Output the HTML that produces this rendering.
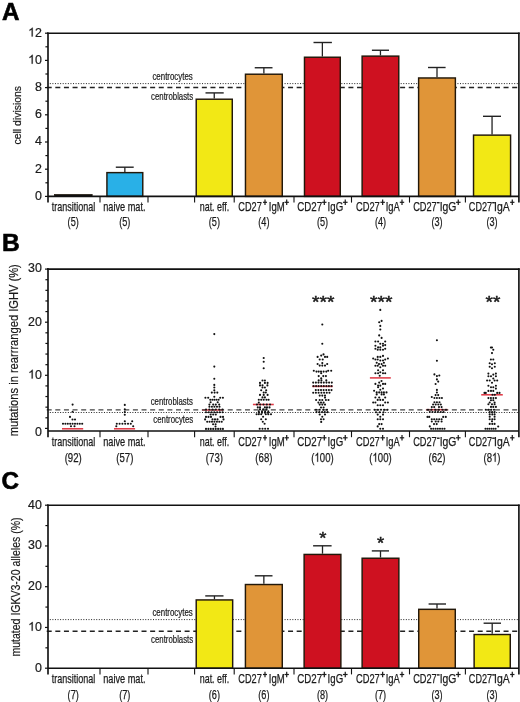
<!DOCTYPE html><html><head><meta charset="utf-8"><style>html,body{margin:0;padding:0;background:#fff}svg{display:block;will-change:transform}text{font-family:"Liberation Sans", sans-serif}</style></head><body>
<svg width="520" height="702" viewBox="0 0 520 702">
<rect width="520" height="702" fill="#fff"/>
<text x="1.9" y="20.0" font-size="24.2" font-weight="bold" fill="#000" text-anchor="start" stroke="#000" stroke-width="0.6">A</text>
<line x1="49.8" y1="83.6" x2="517.9" y2="83.6" stroke="#222" stroke-width="1.0" stroke-linecap="butt" stroke-dasharray="1 1.58"/>
<line x1="46.7" y1="87.5" x2="517.9" y2="87.5" stroke="#222" stroke-width="1.5" stroke-linecap="butt" stroke-dasharray="5 3.62"/>
<text x="152.39999999999998" y="79.5" font-size="10" font-weight="normal" fill="#1a1a1a" text-anchor="start" stroke="#1a1a1a" stroke-width="0.2" textLength="40.4" lengthAdjust="spacingAndGlyphs">centrocytes</text>
<text x="151.1" y="99.5" font-size="10" font-weight="normal" fill="#1a1a1a" text-anchor="start" stroke="#1a1a1a" stroke-width="0.2" textLength="42.1" lengthAdjust="spacingAndGlyphs">centroblasts</text>
<rect x="54.30" y="194.30" width="37.90" height="2.10" fill="#111" stroke="#22180a" stroke-width="0.6"/>
<line x1="124.85" y1="171.9" x2="124.85" y2="167.2" stroke="#222" stroke-width="1.3" stroke-linecap="butt"/>
<line x1="115.8" y1="167.2" x2="133.7" y2="167.2" stroke="#222" stroke-width="1.4" stroke-linecap="butt"/>
<rect x="106.92" y="172.62" width="35.85" height="23.77" fill="#29B0E7" stroke="#22180a" stroke-width="1.45"/>
<line x1="214.25" y1="98.5" x2="214.25" y2="92.9" stroke="#222" stroke-width="1.3" stroke-linecap="butt"/>
<line x1="205.5" y1="92.9" x2="223.7" y2="92.9" stroke="#222" stroke-width="1.4" stroke-linecap="butt"/>
<rect x="196.22" y="99.22" width="36.05" height="97.18" fill="#F2E815" stroke="#22180a" stroke-width="1.45"/>
<line x1="263.875" y1="73.5" x2="263.875" y2="67.75" stroke="#222" stroke-width="1.3" stroke-linecap="butt"/>
<line x1="254.75" y1="67.75" x2="272.5" y2="67.75" stroke="#222" stroke-width="1.4" stroke-linecap="butt"/>
<rect x="245.47" y="74.22" width="36.80" height="122.18" fill="#E09538" stroke="#22180a" stroke-width="1.45"/>
<line x1="322.375" y1="56.5" x2="322.375" y2="42.5" stroke="#222" stroke-width="1.3" stroke-linecap="butt"/>
<line x1="313.5" y1="42.5" x2="331.9" y2="42.5" stroke="#222" stroke-width="1.4" stroke-linecap="butt"/>
<rect x="304.48" y="57.23" width="35.80" height="139.18" fill="#CE1120" stroke="#22180a" stroke-width="1.45"/>
<line x1="380.45" y1="55.4" x2="380.45" y2="50.25" stroke="#222" stroke-width="1.3" stroke-linecap="butt"/>
<line x1="371.9" y1="50.25" x2="389" y2="50.25" stroke="#222" stroke-width="1.4" stroke-linecap="butt"/>
<rect x="362.12" y="56.12" width="36.65" height="140.28" fill="#CE1120" stroke="#22180a" stroke-width="1.45"/>
<line x1="437.0" y1="77.25" x2="437.0" y2="67.5" stroke="#222" stroke-width="1.3" stroke-linecap="butt"/>
<line x1="428" y1="67.5" x2="445.6" y2="67.5" stroke="#222" stroke-width="1.4" stroke-linecap="butt"/>
<rect x="418.62" y="77.97" width="36.75" height="118.43" fill="#E09538" stroke="#22180a" stroke-width="1.45"/>
<line x1="492.05" y1="134.4" x2="492.05" y2="116.3" stroke="#222" stroke-width="1.3" stroke-linecap="butt"/>
<line x1="483" y1="116.3" x2="501" y2="116.3" stroke="#222" stroke-width="1.4" stroke-linecap="butt"/>
<rect x="473.53" y="135.12" width="37.05" height="61.27" fill="#F2E815" stroke="#22180a" stroke-width="1.45"/>
<line x1="47.0" y1="33.20000000000002" x2="519.6999999999999" y2="33.20000000000002" stroke="#111" stroke-width="1.65" stroke-linecap="butt"/>
<line x1="48.0" y1="32.40000000000002" x2="48.0" y2="202.6" stroke="#111" stroke-width="1.65" stroke-linecap="butt"/>
<line x1="518.9" y1="32.40000000000002" x2="518.9" y2="202.6" stroke="#111" stroke-width="1.65" stroke-linecap="butt"/>
<line x1="48.0" y1="196.4" x2="518.9" y2="196.4" stroke="#111" stroke-width="1.65" stroke-linecap="butt"/>
<line x1="100" y1="196.4" x2="100" y2="202.6" stroke="#111" stroke-width="1.1" stroke-linecap="butt"/>
<line x1="148" y1="196.4" x2="148" y2="202.6" stroke="#111" stroke-width="1.1" stroke-linecap="butt"/>
<line x1="194.6" y1="196.4" x2="194.6" y2="202.6" stroke="#111" stroke-width="1.1" stroke-linecap="butt"/>
<line x1="234.2" y1="196.4" x2="234.2" y2="202.6" stroke="#111" stroke-width="1.1" stroke-linecap="butt"/>
<line x1="294" y1="196.4" x2="294" y2="202.6" stroke="#111" stroke-width="1.1" stroke-linecap="butt"/>
<line x1="351.5" y1="196.4" x2="351.5" y2="202.6" stroke="#111" stroke-width="1.1" stroke-linecap="butt"/>
<line x1="409.5" y1="196.4" x2="409.5" y2="202.6" stroke="#111" stroke-width="1.1" stroke-linecap="butt"/>
<line x1="465.4" y1="196.4" x2="465.4" y2="202.6" stroke="#111" stroke-width="1.1" stroke-linecap="butt"/>
<line x1="45.0" y1="196.4" x2="48.0" y2="196.4" stroke="#111" stroke-width="1.2" stroke-linecap="butt"/>
<text x="35.003710937499996" y="199.70000000000002" font-size="12.4" font-weight="normal" fill="#1a1a1a" text-anchor="start" stroke="#1a1a1a" stroke-width="0.2">0</text>
<line x1="45.4" y1="182.8" x2="48.0" y2="182.8" stroke="#111" stroke-width="1.2" stroke-linecap="butt"/>
<line x1="45.0" y1="169.20000000000002" x2="48.0" y2="169.20000000000002" stroke="#111" stroke-width="1.2" stroke-linecap="butt"/>
<text x="35.003710937499996" y="172.50000000000003" font-size="12.4" font-weight="normal" fill="#1a1a1a" text-anchor="start" stroke="#1a1a1a" stroke-width="0.2">2</text>
<line x1="45.4" y1="155.60000000000002" x2="48.0" y2="155.60000000000002" stroke="#111" stroke-width="1.2" stroke-linecap="butt"/>
<line x1="45.0" y1="142.0" x2="48.0" y2="142.0" stroke="#111" stroke-width="1.2" stroke-linecap="butt"/>
<text x="35.003710937499996" y="145.3" font-size="12.4" font-weight="normal" fill="#1a1a1a" text-anchor="start" stroke="#1a1a1a" stroke-width="0.2">4</text>
<line x1="45.4" y1="128.4" x2="48.0" y2="128.4" stroke="#111" stroke-width="1.2" stroke-linecap="butt"/>
<line x1="45.0" y1="114.80000000000001" x2="48.0" y2="114.80000000000001" stroke="#111" stroke-width="1.2" stroke-linecap="butt"/>
<text x="35.003710937499996" y="118.10000000000001" font-size="12.4" font-weight="normal" fill="#1a1a1a" text-anchor="start" stroke="#1a1a1a" stroke-width="0.2">6</text>
<line x1="45.4" y1="101.2" x2="48.0" y2="101.2" stroke="#111" stroke-width="1.2" stroke-linecap="butt"/>
<line x1="45.0" y1="87.60000000000001" x2="48.0" y2="87.60000000000001" stroke="#111" stroke-width="1.2" stroke-linecap="butt"/>
<text x="35.003710937499996" y="90.9" font-size="12.4" font-weight="normal" fill="#1a1a1a" text-anchor="start" stroke="#1a1a1a" stroke-width="0.2">8</text>
<line x1="45.4" y1="74.00000000000001" x2="48.0" y2="74.00000000000001" stroke="#111" stroke-width="1.2" stroke-linecap="butt"/>
<line x1="45.0" y1="60.400000000000006" x2="48.0" y2="60.400000000000006" stroke="#111" stroke-width="1.2" stroke-linecap="butt"/>
<text x="28.107421875" y="63.7" font-size="12.4" font-weight="normal" fill="#1a1a1a" text-anchor="start" stroke="#1a1a1a" stroke-width="0.2"> 0</text>
<path transform="translate(28.11,63.7) scale(0.00605,-0.00605)" d="M763 0H583V1147Q518 1085 412 1023T222 930V1104Q372 1175 484 1276T643 1466H763Z" fill="#1a1a1a" stroke="#1a1a1a" stroke-width="33.0"/>
<line x1="45.4" y1="46.80000000000001" x2="48.0" y2="46.80000000000001" stroke="#111" stroke-width="1.2" stroke-linecap="butt"/>
<line x1="45.0" y1="33.20000000000002" x2="48.0" y2="33.20000000000002" stroke="#111" stroke-width="1.2" stroke-linecap="butt"/>
<text x="28.107421875" y="36.500000000000014" font-size="12.4" font-weight="normal" fill="#1a1a1a" text-anchor="start" stroke="#1a1a1a" stroke-width="0.2"> 2</text>
<path transform="translate(28.11,36.500000000000014) scale(0.00605,-0.00605)" d="M763 0H583V1147Q518 1085 412 1023T222 930V1104Q372 1175 484 1276T643 1466H763Z" fill="#1a1a1a" stroke="#1a1a1a" stroke-width="33.0"/>
<text transform="translate(21.0,115.2) rotate(-90)" font-size="10.6" font-weight="normal" fill="#1a1a1a" text-anchor="middle" stroke="#1a1a1a" stroke-width="0.2" textLength="58.5" lengthAdjust="spacingAndGlyphs">cell divisions</text>
<text x="51.66" y="210.7" font-size="12.6" font-weight="normal" fill="#1a1a1a" text-anchor="start" stroke="#1a1a1a" stroke-width="0.25" textLength="43.54" lengthAdjust="spacingAndGlyphs">transitional</text>
<text x="103.19" y="210.7" font-size="12.6" font-weight="normal" fill="#1a1a1a" text-anchor="start" stroke="#1a1a1a" stroke-width="0.25" textLength="42.35" lengthAdjust="spacingAndGlyphs">naive mat.</text>
<text x="199.71" y="210.7" font-size="12.6" font-weight="normal" fill="#1a1a1a" text-anchor="start" stroke="#1a1a1a" stroke-width="0.25" textLength="29.6" lengthAdjust="spacingAndGlyphs">nat. eff.</text>
<text x="238.33" y="210.7" font-size="12.6" font-weight="normal" fill="#1a1a1a" text-anchor="start" stroke="#1a1a1a" stroke-width="0.25" textLength="23.43" lengthAdjust="spacingAndGlyphs">CD27</text>
<line x1="263.0" y1="202.29999999999998" x2="267.0" y2="202.29999999999998" stroke="#1a1a1a" stroke-width="1.2" stroke-linecap="butt"/>
<line x1="265.0" y1="199.54999999999998" x2="265.0" y2="205.04999999999998" stroke="#1a1a1a" stroke-width="1.2" stroke-linecap="butt"/>
<text x="268.82" y="210.7" font-size="12.6" font-weight="normal" fill="#1a1a1a" text-anchor="start" stroke="#1a1a1a" stroke-width="0.25" textLength="15.97" lengthAdjust="spacingAndGlyphs">IgM</text>
<line x1="284.5" y1="202.29999999999998" x2="288.9" y2="202.29999999999998" stroke="#1a1a1a" stroke-width="1.2" stroke-linecap="butt"/>
<line x1="286.7" y1="199.54999999999998" x2="286.7" y2="205.04999999999998" stroke="#1a1a1a" stroke-width="1.2" stroke-linecap="butt"/>
<text x="297.31" y="210.7" font-size="12.6" font-weight="normal" fill="#1a1a1a" text-anchor="start" stroke="#1a1a1a" stroke-width="0.25" textLength="24.88" lengthAdjust="spacingAndGlyphs">CD27</text>
<line x1="322.1" y1="202.29999999999998" x2="326.5" y2="202.29999999999998" stroke="#1a1a1a" stroke-width="1.2" stroke-linecap="butt"/>
<line x1="324.3" y1="199.54999999999998" x2="324.3" y2="205.04999999999998" stroke="#1a1a1a" stroke-width="1.2" stroke-linecap="butt"/>
<text x="327.61" y="210.7" font-size="12.6" font-weight="normal" fill="#1a1a1a" text-anchor="start" stroke="#1a1a1a" stroke-width="0.25" textLength="15.51" lengthAdjust="spacingAndGlyphs">IgG</text>
<line x1="342.90000000000003" y1="202.29999999999998" x2="347.59999999999997" y2="202.29999999999998" stroke="#1a1a1a" stroke-width="1.2" stroke-linecap="butt"/>
<line x1="345.25" y1="199.54999999999998" x2="345.25" y2="205.04999999999998" stroke="#1a1a1a" stroke-width="1.2" stroke-linecap="butt"/>
<text x="355.93" y="210.7" font-size="12.6" font-weight="normal" fill="#1a1a1a" text-anchor="start" stroke="#1a1a1a" stroke-width="0.25" textLength="23.84" lengthAdjust="spacingAndGlyphs">CD27</text>
<line x1="380.40000000000003" y1="202.29999999999998" x2="384.9" y2="202.29999999999998" stroke="#1a1a1a" stroke-width="1.2" stroke-linecap="butt"/>
<line x1="382.65" y1="199.54999999999998" x2="382.65" y2="205.04999999999998" stroke="#1a1a1a" stroke-width="1.2" stroke-linecap="butt"/>
<text x="385.63" y="210.7" font-size="12.6" font-weight="normal" fill="#1a1a1a" text-anchor="start" stroke="#1a1a1a" stroke-width="0.25" textLength="14.08" lengthAdjust="spacingAndGlyphs">IgA</text>
<line x1="399.8" y1="202.29999999999998" x2="404.2" y2="202.29999999999998" stroke="#1a1a1a" stroke-width="1.2" stroke-linecap="butt"/>
<line x1="402.0" y1="199.54999999999998" x2="402.0" y2="205.04999999999998" stroke="#1a1a1a" stroke-width="1.2" stroke-linecap="butt"/>
<text x="413.13" y="210.7" font-size="12.6" font-weight="normal" fill="#1a1a1a" text-anchor="start" stroke="#1a1a1a" stroke-width="0.25" textLength="23.63" lengthAdjust="spacingAndGlyphs">CD27</text>
<line x1="437.0" y1="202.7" x2="439.6" y2="202.7" stroke="#1a1a1a" stroke-width="1.4" stroke-linecap="butt"/>
<text x="439.64" y="210.7" font-size="12.6" font-weight="normal" fill="#1a1a1a" text-anchor="start" stroke="#1a1a1a" stroke-width="0.25" textLength="16.73" lengthAdjust="spacingAndGlyphs">IgG</text>
<line x1="455.90000000000003" y1="202.29999999999998" x2="460.59999999999997" y2="202.29999999999998" stroke="#1a1a1a" stroke-width="1.2" stroke-linecap="butt"/>
<line x1="458.25" y1="199.54999999999998" x2="458.25" y2="205.04999999999998" stroke="#1a1a1a" stroke-width="1.2" stroke-linecap="butt"/>
<text x="468.84" y="210.7" font-size="12.6" font-weight="normal" fill="#1a1a1a" text-anchor="start" stroke="#1a1a1a" stroke-width="0.25" textLength="23.22" lengthAdjust="spacingAndGlyphs">CD27</text>
<line x1="492.2" y1="202.7" x2="494.8" y2="202.7" stroke="#1a1a1a" stroke-width="1.4" stroke-linecap="butt"/>
<text x="494.09" y="210.7" font-size="12.6" font-weight="normal" fill="#1a1a1a" text-anchor="start" stroke="#1a1a1a" stroke-width="0.25" textLength="15.63" lengthAdjust="spacingAndGlyphs">IgA</text>
<line x1="510.1" y1="202.29999999999998" x2="514.45" y2="202.29999999999998" stroke="#1a1a1a" stroke-width="1.2" stroke-linecap="butt"/>
<line x1="512.275" y1="199.54999999999998" x2="512.275" y2="205.04999999999998" stroke="#1a1a1a" stroke-width="1.2" stroke-linecap="butt"/>
<text x="67.6" y="226.29999999999998" font-size="12.6" font-weight="normal" fill="#1a1a1a" text-anchor="start" stroke="#1a1a1a" stroke-width="0.25" textLength="11.200000000000001" lengthAdjust="spacingAndGlyphs">(5)</text>
<text x="119.19999999999999" y="226.29999999999998" font-size="12.6" font-weight="normal" fill="#1a1a1a" text-anchor="start" stroke="#1a1a1a" stroke-width="0.25" textLength="11.200000000000001" lengthAdjust="spacingAndGlyphs">(5)</text>
<text x="208.8" y="226.29999999999998" font-size="12.6" font-weight="normal" fill="#1a1a1a" text-anchor="start" stroke="#1a1a1a" stroke-width="0.25" textLength="11.200000000000001" lengthAdjust="spacingAndGlyphs">(5)</text>
<text x="258.3" y="226.29999999999998" font-size="12.6" font-weight="normal" fill="#1a1a1a" text-anchor="start" stroke="#1a1a1a" stroke-width="0.25" textLength="11.200000000000001" lengthAdjust="spacingAndGlyphs">(4)</text>
<text x="316.90000000000003" y="226.29999999999998" font-size="12.6" font-weight="normal" fill="#1a1a1a" text-anchor="start" stroke="#1a1a1a" stroke-width="0.25" textLength="11.200000000000001" lengthAdjust="spacingAndGlyphs">(5)</text>
<text x="374.90000000000003" y="226.29999999999998" font-size="12.6" font-weight="normal" fill="#1a1a1a" text-anchor="start" stroke="#1a1a1a" stroke-width="0.25" textLength="11.200000000000001" lengthAdjust="spacingAndGlyphs">(4)</text>
<text x="431.40000000000003" y="226.29999999999998" font-size="12.6" font-weight="normal" fill="#1a1a1a" text-anchor="start" stroke="#1a1a1a" stroke-width="0.25" textLength="11.200000000000001" lengthAdjust="spacingAndGlyphs">(3)</text>
<text x="486.40000000000003" y="226.29999999999998" font-size="12.6" font-weight="normal" fill="#1a1a1a" text-anchor="start" stroke="#1a1a1a" stroke-width="0.25" textLength="11.200000000000001" lengthAdjust="spacingAndGlyphs">(3)</text>
<text x="2.0" y="250.7" font-size="24.6" font-weight="bold" fill="#000" text-anchor="start" stroke="#000" stroke-width="0.6">B</text>
<line x1="62" y1="428.8" x2="83.2" y2="428.8" stroke="#E03C48" stroke-width="1.55"/>
<line x1="114" y1="428.8" x2="135.1" y2="428.8" stroke="#E03C48" stroke-width="1.55"/>
<line x1="202" y1="410.0" x2="223.5" y2="410.0" stroke="#E03C48" stroke-width="1.55"/>
<line x1="252.9" y1="404.5" x2="273.8" y2="404.5" stroke="#E03C48" stroke-width="1.55"/>
<line x1="312.2" y1="386.4" x2="332.8" y2="386.4" stroke="#E03C48" stroke-width="1.55"/>
<line x1="369.9" y1="377.9" x2="390.8" y2="377.9" stroke="#E03C48" stroke-width="1.55"/>
<line x1="425.9" y1="409.7" x2="448.1" y2="409.7" stroke="#E03C48" stroke-width="1.55"/>
<line x1="481.2" y1="394.8" x2="502.8" y2="394.8" stroke="#E03C48" stroke-width="1.55"/>
<line x1="49.8" y1="412.5" x2="517.9" y2="412.5" stroke="#222" stroke-width="1.0" stroke-linecap="butt" stroke-dasharray="1 1.58"/>
<line x1="46.7" y1="409.8" x2="517.9" y2="409.8" stroke="#444" stroke-width="1.35" stroke-linecap="butt" stroke-dasharray="5 3.62"/>
<text x="150.7" y="405.0" font-size="10" font-weight="normal" fill="#1a1a1a" text-anchor="start" stroke="#1a1a1a" stroke-width="0.2" textLength="42.1" lengthAdjust="spacingAndGlyphs">centroblasts</text>
<text x="153.3" y="422.5" font-size="10" font-weight="normal" fill="#1a1a1a" text-anchor="start" stroke="#1a1a1a" stroke-width="0.2" textLength="39.9" lengthAdjust="spacingAndGlyphs">centrocytes</text>
<line x1="47.0" y1="269.1" x2="519.6999999999999" y2="269.1" stroke="#111" stroke-width="1.65" stroke-linecap="butt"/>
<line x1="48.0" y1="268.3" x2="48.0" y2="437.2" stroke="#111" stroke-width="1.65" stroke-linecap="butt"/>
<line x1="518.9" y1="268.3" x2="518.9" y2="437.2" stroke="#111" stroke-width="1.65" stroke-linecap="butt"/>
<line x1="48.0" y1="431.0" x2="518.9" y2="431.0" stroke="#111" stroke-width="1.65" stroke-linecap="butt"/>
<line x1="100" y1="431.0" x2="100" y2="437.2" stroke="#111" stroke-width="1.1" stroke-linecap="butt"/>
<line x1="148" y1="431.0" x2="148" y2="437.2" stroke="#111" stroke-width="1.1" stroke-linecap="butt"/>
<line x1="194.6" y1="431.0" x2="194.6" y2="437.2" stroke="#111" stroke-width="1.1" stroke-linecap="butt"/>
<line x1="234.2" y1="431.0" x2="234.2" y2="437.2" stroke="#111" stroke-width="1.1" stroke-linecap="butt"/>
<line x1="294" y1="431.0" x2="294" y2="437.2" stroke="#111" stroke-width="1.1" stroke-linecap="butt"/>
<line x1="351.5" y1="431.0" x2="351.5" y2="437.2" stroke="#111" stroke-width="1.1" stroke-linecap="butt"/>
<line x1="409.5" y1="431.0" x2="409.5" y2="437.2" stroke="#111" stroke-width="1.1" stroke-linecap="butt"/>
<line x1="465.4" y1="431.0" x2="465.4" y2="437.2" stroke="#111" stroke-width="1.1" stroke-linecap="butt"/>
<line x1="45.0" y1="428.4" x2="48.0" y2="428.4" stroke="#111" stroke-width="1.2" stroke-linecap="butt"/>
<line x1="45.4" y1="417.78" x2="48.0" y2="417.78" stroke="#111" stroke-width="1.2" stroke-linecap="butt"/>
<line x1="45.4" y1="407.15999999999997" x2="48.0" y2="407.15999999999997" stroke="#111" stroke-width="1.2" stroke-linecap="butt"/>
<line x1="45.4" y1="396.53999999999996" x2="48.0" y2="396.53999999999996" stroke="#111" stroke-width="1.2" stroke-linecap="butt"/>
<line x1="45.4" y1="385.91999999999996" x2="48.0" y2="385.91999999999996" stroke="#111" stroke-width="1.2" stroke-linecap="butt"/>
<line x1="45.0" y1="375.29999999999995" x2="48.0" y2="375.29999999999995" stroke="#111" stroke-width="1.2" stroke-linecap="butt"/>
<text x="28.107421875" y="378.59999999999997" font-size="12.4" font-weight="normal" fill="#1a1a1a" text-anchor="start" stroke="#1a1a1a" stroke-width="0.2"> 0</text>
<path transform="translate(28.11,378.59999999999997) scale(0.00605,-0.00605)" d="M763 0H583V1147Q518 1085 412 1023T222 930V1104Q372 1175 484 1276T643 1466H763Z" fill="#1a1a1a" stroke="#1a1a1a" stroke-width="33.0"/>
<line x1="45.4" y1="364.67999999999995" x2="48.0" y2="364.67999999999995" stroke="#111" stroke-width="1.2" stroke-linecap="butt"/>
<line x1="45.4" y1="354.06" x2="48.0" y2="354.06" stroke="#111" stroke-width="1.2" stroke-linecap="butt"/>
<line x1="45.4" y1="343.44" x2="48.0" y2="343.44" stroke="#111" stroke-width="1.2" stroke-linecap="butt"/>
<line x1="45.4" y1="332.82" x2="48.0" y2="332.82" stroke="#111" stroke-width="1.2" stroke-linecap="butt"/>
<line x1="45.0" y1="322.2" x2="48.0" y2="322.2" stroke="#111" stroke-width="1.2" stroke-linecap="butt"/>
<text x="28.107421875" y="325.5" font-size="12.4" font-weight="normal" fill="#1a1a1a" text-anchor="start" stroke="#1a1a1a" stroke-width="0.2">20</text>
<line x1="45.4" y1="311.58" x2="48.0" y2="311.58" stroke="#111" stroke-width="1.2" stroke-linecap="butt"/>
<line x1="45.4" y1="300.96" x2="48.0" y2="300.96" stroke="#111" stroke-width="1.2" stroke-linecap="butt"/>
<line x1="45.4" y1="290.34" x2="48.0" y2="290.34" stroke="#111" stroke-width="1.2" stroke-linecap="butt"/>
<line x1="45.4" y1="279.72" x2="48.0" y2="279.72" stroke="#111" stroke-width="1.2" stroke-linecap="butt"/>
<line x1="45.0" y1="269.1" x2="48.0" y2="269.1" stroke="#111" stroke-width="1.2" stroke-linecap="butt"/>
<text x="28.107421875" y="272.40000000000003" font-size="12.4" font-weight="normal" fill="#1a1a1a" text-anchor="start" stroke="#1a1a1a" stroke-width="0.2">30</text>
<text x="41.9" y="435.6" font-size="12.4" font-weight="normal" fill="#1a1a1a" text-anchor="end" stroke="#1a1a1a" stroke-width="0.2">0</text>
<text transform="translate(18.3,350.2) rotate(-90)" font-size="12.8" font-weight="normal" fill="#1a1a1a" text-anchor="middle" stroke="#1a1a1a" stroke-width="0.2" textLength="172" lengthAdjust="spacingAndGlyphs">mutations in rearrranged IGHV (%)</text>
<text x="51.66" y="446.2" font-size="12.6" font-weight="normal" fill="#1a1a1a" text-anchor="start" stroke="#1a1a1a" stroke-width="0.25" textLength="43.54" lengthAdjust="spacingAndGlyphs">transitional</text>
<text x="103.19" y="446.2" font-size="12.6" font-weight="normal" fill="#1a1a1a" text-anchor="start" stroke="#1a1a1a" stroke-width="0.25" textLength="42.35" lengthAdjust="spacingAndGlyphs">naive mat.</text>
<text x="199.71" y="446.2" font-size="12.6" font-weight="normal" fill="#1a1a1a" text-anchor="start" stroke="#1a1a1a" stroke-width="0.25" textLength="29.6" lengthAdjust="spacingAndGlyphs">nat. eff.</text>
<text x="238.33" y="446.2" font-size="12.6" font-weight="normal" fill="#1a1a1a" text-anchor="start" stroke="#1a1a1a" stroke-width="0.25" textLength="23.43" lengthAdjust="spacingAndGlyphs">CD27</text>
<line x1="263.0" y1="437.8" x2="267.0" y2="437.8" stroke="#1a1a1a" stroke-width="1.2" stroke-linecap="butt"/>
<line x1="265.0" y1="435.05" x2="265.0" y2="440.55" stroke="#1a1a1a" stroke-width="1.2" stroke-linecap="butt"/>
<text x="268.82" y="446.2" font-size="12.6" font-weight="normal" fill="#1a1a1a" text-anchor="start" stroke="#1a1a1a" stroke-width="0.25" textLength="15.97" lengthAdjust="spacingAndGlyphs">IgM</text>
<line x1="284.5" y1="437.8" x2="288.9" y2="437.8" stroke="#1a1a1a" stroke-width="1.2" stroke-linecap="butt"/>
<line x1="286.7" y1="435.05" x2="286.7" y2="440.55" stroke="#1a1a1a" stroke-width="1.2" stroke-linecap="butt"/>
<text x="297.31" y="446.2" font-size="12.6" font-weight="normal" fill="#1a1a1a" text-anchor="start" stroke="#1a1a1a" stroke-width="0.25" textLength="24.88" lengthAdjust="spacingAndGlyphs">CD27</text>
<line x1="322.1" y1="437.8" x2="326.5" y2="437.8" stroke="#1a1a1a" stroke-width="1.2" stroke-linecap="butt"/>
<line x1="324.3" y1="435.05" x2="324.3" y2="440.55" stroke="#1a1a1a" stroke-width="1.2" stroke-linecap="butt"/>
<text x="327.61" y="446.2" font-size="12.6" font-weight="normal" fill="#1a1a1a" text-anchor="start" stroke="#1a1a1a" stroke-width="0.25" textLength="15.51" lengthAdjust="spacingAndGlyphs">IgG</text>
<line x1="342.90000000000003" y1="437.8" x2="347.59999999999997" y2="437.8" stroke="#1a1a1a" stroke-width="1.2" stroke-linecap="butt"/>
<line x1="345.25" y1="435.05" x2="345.25" y2="440.55" stroke="#1a1a1a" stroke-width="1.2" stroke-linecap="butt"/>
<text x="355.93" y="446.2" font-size="12.6" font-weight="normal" fill="#1a1a1a" text-anchor="start" stroke="#1a1a1a" stroke-width="0.25" textLength="23.84" lengthAdjust="spacingAndGlyphs">CD27</text>
<line x1="380.40000000000003" y1="437.8" x2="384.9" y2="437.8" stroke="#1a1a1a" stroke-width="1.2" stroke-linecap="butt"/>
<line x1="382.65" y1="435.05" x2="382.65" y2="440.55" stroke="#1a1a1a" stroke-width="1.2" stroke-linecap="butt"/>
<text x="385.63" y="446.2" font-size="12.6" font-weight="normal" fill="#1a1a1a" text-anchor="start" stroke="#1a1a1a" stroke-width="0.25" textLength="14.08" lengthAdjust="spacingAndGlyphs">IgA</text>
<line x1="399.8" y1="437.8" x2="404.2" y2="437.8" stroke="#1a1a1a" stroke-width="1.2" stroke-linecap="butt"/>
<line x1="402.0" y1="435.05" x2="402.0" y2="440.55" stroke="#1a1a1a" stroke-width="1.2" stroke-linecap="butt"/>
<text x="413.13" y="446.2" font-size="12.6" font-weight="normal" fill="#1a1a1a" text-anchor="start" stroke="#1a1a1a" stroke-width="0.25" textLength="23.63" lengthAdjust="spacingAndGlyphs">CD27</text>
<line x1="437.0" y1="438.2" x2="439.6" y2="438.2" stroke="#1a1a1a" stroke-width="1.4" stroke-linecap="butt"/>
<text x="439.64" y="446.2" font-size="12.6" font-weight="normal" fill="#1a1a1a" text-anchor="start" stroke="#1a1a1a" stroke-width="0.25" textLength="16.73" lengthAdjust="spacingAndGlyphs">IgG</text>
<line x1="455.90000000000003" y1="437.8" x2="460.59999999999997" y2="437.8" stroke="#1a1a1a" stroke-width="1.2" stroke-linecap="butt"/>
<line x1="458.25" y1="435.05" x2="458.25" y2="440.55" stroke="#1a1a1a" stroke-width="1.2" stroke-linecap="butt"/>
<text x="468.84" y="446.2" font-size="12.6" font-weight="normal" fill="#1a1a1a" text-anchor="start" stroke="#1a1a1a" stroke-width="0.25" textLength="23.22" lengthAdjust="spacingAndGlyphs">CD27</text>
<line x1="492.2" y1="438.2" x2="494.8" y2="438.2" stroke="#1a1a1a" stroke-width="1.4" stroke-linecap="butt"/>
<text x="494.09" y="446.2" font-size="12.6" font-weight="normal" fill="#1a1a1a" text-anchor="start" stroke="#1a1a1a" stroke-width="0.25" textLength="15.63" lengthAdjust="spacingAndGlyphs">IgA</text>
<line x1="510.1" y1="437.8" x2="514.45" y2="437.8" stroke="#1a1a1a" stroke-width="1.2" stroke-linecap="butt"/>
<line x1="512.275" y1="435.05" x2="512.275" y2="440.55" stroke="#1a1a1a" stroke-width="1.2" stroke-linecap="butt"/>
<text x="64.64999999999999" y="461.8" font-size="12.6" font-weight="normal" fill="#1a1a1a" text-anchor="start" stroke="#1a1a1a" stroke-width="0.25" textLength="17.1" lengthAdjust="spacingAndGlyphs">(92)</text>
<text x="116.24999999999999" y="461.8" font-size="12.6" font-weight="normal" fill="#1a1a1a" text-anchor="start" stroke="#1a1a1a" stroke-width="0.25" textLength="17.1" lengthAdjust="spacingAndGlyphs">(57)</text>
<text x="205.85" y="461.8" font-size="12.6" font-weight="normal" fill="#1a1a1a" text-anchor="start" stroke="#1a1a1a" stroke-width="0.25" textLength="17.1" lengthAdjust="spacingAndGlyphs">(73)</text>
<text x="255.34999999999997" y="461.8" font-size="12.6" font-weight="normal" fill="#1a1a1a" text-anchor="start" stroke="#1a1a1a" stroke-width="0.25" textLength="17.1" lengthAdjust="spacingAndGlyphs">(68)</text>
<text x="311.35" y="461.8" font-size="12.6" font-weight="normal" fill="#1a1a1a" text-anchor="start" stroke="#1a1a1a" stroke-width="0.25" textLength="22.3" lengthAdjust="spacingAndGlyphs">( 00)</text>
<path transform="translate(314.53,461.8) scale(0.00466,-0.00615)" d="M763 0H583V1147Q518 1085 412 1023T222 930V1104Q372 1175 484 1276T643 1466H763Z" fill="#1a1a1a" stroke="#1a1a1a" stroke-width="40.6"/>
<text x="369.35" y="461.8" font-size="12.6" font-weight="normal" fill="#1a1a1a" text-anchor="start" stroke="#1a1a1a" stroke-width="0.25" textLength="22.3" lengthAdjust="spacingAndGlyphs">( 00)</text>
<path transform="translate(372.53,461.8) scale(0.00466,-0.00615)" d="M763 0H583V1147Q518 1085 412 1023T222 930V1104Q372 1175 484 1276T643 1466H763Z" fill="#1a1a1a" stroke="#1a1a1a" stroke-width="40.6"/>
<text x="428.45000000000005" y="461.8" font-size="12.6" font-weight="normal" fill="#1a1a1a" text-anchor="start" stroke="#1a1a1a" stroke-width="0.25" textLength="17.1" lengthAdjust="spacingAndGlyphs">(62)</text>
<text x="483.45000000000005" y="461.8" font-size="12.6" font-weight="normal" fill="#1a1a1a" text-anchor="start" stroke="#1a1a1a" stroke-width="0.25" textLength="17.1" lengthAdjust="spacingAndGlyphs">(8 )</text>
<path transform="translate(492.00,461.8) scale(0.00470,-0.00615)" d="M763 0H583V1147Q518 1085 412 1023T222 930V1104Q372 1175 484 1276T643 1466H763Z" fill="#1a1a1a" stroke="#1a1a1a" stroke-width="40.6"/>
<text x="312.0" y="308.2" font-size="17" font-weight="normal" fill="#1a1a1a" text-anchor="start" stroke="#1a1a1a" stroke-width="0.45" textLength="22.4" lengthAdjust="spacingAndGlyphs">***</text>
<text x="370.0" y="308.2" font-size="17" font-weight="normal" fill="#1a1a1a" text-anchor="start" stroke="#1a1a1a" stroke-width="0.45" textLength="22.4" lengthAdjust="spacingAndGlyphs">***</text>
<text x="485.5" y="308.2" font-size="17" font-weight="normal" fill="#1a1a1a" text-anchor="start" stroke="#1a1a1a" stroke-width="0.45" textLength="14.8" lengthAdjust="spacingAndGlyphs">**</text>
<g fill="#111">
<circle cx="72.6" cy="404.6" r="1.05"/>
<circle cx="72.6" cy="411.8" r="1.05"/>
<circle cx="70.0" cy="416.9" r="1.05"/>
<circle cx="72.5" cy="419.5" r="1.05"/>
<circle cx="75.0" cy="419.5" r="1.05"/>
<circle cx="63.0" cy="423.8" r="1.05"/>
<circle cx="65.4" cy="423.8" r="1.05"/>
<circle cx="67.8" cy="423.8" r="1.05"/>
<circle cx="70.2" cy="423.8" r="1.05"/>
<circle cx="72.6" cy="423.8" r="1.05"/>
<circle cx="75.0" cy="423.8" r="1.05"/>
<circle cx="77.4" cy="423.8" r="1.05"/>
<circle cx="79.8" cy="423.8" r="1.05"/>
<circle cx="82.2" cy="423.8" r="1.05"/>
<circle cx="71.0" cy="426.3" r="1.05"/>
<circle cx="74.5" cy="426.3" r="1.05"/>
<circle cx="124.8" cy="404.9" r="1.05"/>
<circle cx="124.8" cy="409.4" r="1.05"/>
<circle cx="124.8" cy="412.1" r="1.05"/>
<circle cx="124.8" cy="414.7" r="1.05"/>
<circle cx="124.8" cy="421.2" r="1.05"/>
<circle cx="132.2" cy="421.2" r="1.05"/>
<circle cx="116.8" cy="423.7" r="1.05"/>
<circle cx="119.6" cy="423.7" r="1.05"/>
<circle cx="122.4" cy="423.7" r="1.05"/>
<circle cx="125.2" cy="423.7" r="1.05"/>
<circle cx="128.0" cy="423.7" r="1.05"/>
<circle cx="130.8" cy="423.7" r="1.05"/>
<circle cx="116.3" cy="426.3" r="1.05"/>
<circle cx="133.2" cy="426.3" r="1.05"/>
<circle cx="214.3" cy="334.1" r="1.05"/>
<circle cx="214.3" cy="366.6" r="1.05"/>
<circle cx="214.3" cy="378.7" r="1.05"/>
<circle cx="214.3" cy="384.9" r="1.05"/>
<circle cx="214.3" cy="387.5" r="1.05"/>
<circle cx="214.3" cy="390.2" r="1.05"/>
<circle cx="211.8" cy="392.6" r="1.05"/>
<circle cx="214.6" cy="392.6" r="1.05"/>
<circle cx="217.3" cy="392.6" r="1.05"/>
<circle cx="214.3" cy="396.7" r="1.05"/>
<circle cx="205.4" cy="397.8" r="1.05"/>
<circle cx="208.2" cy="397.8" r="1.05"/>
<circle cx="220.2" cy="397.8" r="1.05"/>
<circle cx="222.9" cy="397.8" r="1.05"/>
<circle cx="210.3" cy="399.7" r="1.05"/>
<circle cx="212.4" cy="399.7" r="1.05"/>
<circle cx="214.4" cy="399.7" r="1.05"/>
<circle cx="216.5" cy="399.7" r="1.05"/>
<circle cx="218.6" cy="399.7" r="1.05"/>
<circle cx="210.6" cy="402.3" r="1.05"/>
<circle cx="217.7" cy="402.3" r="1.05"/>
<circle cx="209.4" cy="404.6" r="1.05"/>
<circle cx="213.2" cy="404.6" r="1.05"/>
<circle cx="215.8" cy="404.6" r="1.05"/>
<circle cx="219.2" cy="404.6" r="1.05"/>
<circle cx="209.4" cy="406.8" r="1.05"/>
<circle cx="211.9" cy="406.8" r="1.05"/>
<circle cx="214.4" cy="406.8" r="1.05"/>
<circle cx="217.0" cy="406.8" r="1.05"/>
<circle cx="219.5" cy="406.8" r="1.05"/>
<circle cx="206.0" cy="409.5" r="1.05"/>
<circle cx="209.3" cy="409.5" r="1.05"/>
<circle cx="212.6" cy="409.5" r="1.05"/>
<circle cx="215.9" cy="409.5" r="1.05"/>
<circle cx="219.2" cy="409.5" r="1.05"/>
<circle cx="222.5" cy="409.5" r="1.05"/>
<circle cx="206.0" cy="412.3" r="1.05"/>
<circle cx="208.8" cy="412.3" r="1.05"/>
<circle cx="211.5" cy="412.3" r="1.05"/>
<circle cx="214.3" cy="412.3" r="1.05"/>
<circle cx="217.1" cy="412.3" r="1.05"/>
<circle cx="219.8" cy="412.3" r="1.05"/>
<circle cx="222.6" cy="412.3" r="1.05"/>
<circle cx="210.6" cy="414.5" r="1.05"/>
<circle cx="213.2" cy="414.5" r="1.05"/>
<circle cx="215.8" cy="414.5" r="1.05"/>
<circle cx="206.0" cy="416.9" r="1.05"/>
<circle cx="208.5" cy="416.9" r="1.05"/>
<circle cx="211.0" cy="416.9" r="1.05"/>
<circle cx="220.5" cy="416.9" r="1.05"/>
<circle cx="223.0" cy="416.9" r="1.05"/>
<circle cx="205.1" cy="419.4" r="1.05"/>
<circle cx="212.5" cy="419.4" r="1.05"/>
<circle cx="215.0" cy="419.4" r="1.05"/>
<circle cx="217.5" cy="419.4" r="1.05"/>
<circle cx="223.5" cy="419.4" r="1.05"/>
<circle cx="207.2" cy="421.7" r="1.05"/>
<circle cx="209.6" cy="421.7" r="1.05"/>
<circle cx="212.0" cy="421.7" r="1.05"/>
<circle cx="214.4" cy="421.7" r="1.05"/>
<circle cx="216.9" cy="421.7" r="1.05"/>
<circle cx="219.3" cy="421.7" r="1.05"/>
<circle cx="221.7" cy="421.7" r="1.05"/>
<circle cx="213.1" cy="424.3" r="1.05"/>
<circle cx="215.6" cy="424.3" r="1.05"/>
<circle cx="215.5" cy="426.5" r="1.05"/>
<circle cx="206.0" cy="428.9" r="1.05"/>
<circle cx="208.4" cy="428.9" r="1.05"/>
<circle cx="210.8" cy="428.9" r="1.05"/>
<circle cx="213.2" cy="428.9" r="1.05"/>
<circle cx="215.7" cy="428.9" r="1.05"/>
<circle cx="218.1" cy="428.9" r="1.05"/>
<circle cx="220.5" cy="428.9" r="1.05"/>
<circle cx="222.9" cy="428.9" r="1.05"/>
<circle cx="263.7" cy="358.0" r="1.05"/>
<circle cx="263.7" cy="361.8" r="1.05"/>
<circle cx="263.7" cy="368.2" r="1.05"/>
<circle cx="262.5" cy="380.5" r="1.05"/>
<circle cx="264.9" cy="380.5" r="1.05"/>
<circle cx="260.0" cy="382.9" r="1.05"/>
<circle cx="264.9" cy="382.9" r="1.05"/>
<circle cx="267.6" cy="382.9" r="1.05"/>
<circle cx="260.0" cy="385.4" r="1.05"/>
<circle cx="262.5" cy="385.4" r="1.05"/>
<circle cx="267.4" cy="385.4" r="1.05"/>
<circle cx="262.5" cy="387.5" r="1.05"/>
<circle cx="264.9" cy="387.5" r="1.05"/>
<circle cx="261.2" cy="390.3" r="1.05"/>
<circle cx="266.2" cy="390.3" r="1.05"/>
<circle cx="263.7" cy="392.5" r="1.05"/>
<circle cx="265.8" cy="392.5" r="1.05"/>
<circle cx="260.0" cy="394.9" r="1.05"/>
<circle cx="263.7" cy="394.9" r="1.05"/>
<circle cx="267.6" cy="394.9" r="1.05"/>
<circle cx="262.5" cy="397.4" r="1.05"/>
<circle cx="264.9" cy="397.4" r="1.05"/>
<circle cx="258.8" cy="399.7" r="1.05"/>
<circle cx="261.2" cy="399.7" r="1.05"/>
<circle cx="263.7" cy="399.7" r="1.05"/>
<circle cx="266.5" cy="399.7" r="1.05"/>
<circle cx="268.6" cy="399.7" r="1.05"/>
<circle cx="258.8" cy="402.6" r="1.05"/>
<circle cx="257.0" cy="404.5" r="1.05"/>
<circle cx="260.2" cy="404.5" r="1.05"/>
<circle cx="263.5" cy="404.5" r="1.05"/>
<circle cx="266.8" cy="404.5" r="1.05"/>
<circle cx="270.0" cy="404.5" r="1.05"/>
<circle cx="257.8" cy="407.4" r="1.05"/>
<circle cx="260.0" cy="407.4" r="1.05"/>
<circle cx="264.9" cy="407.4" r="1.05"/>
<circle cx="267.0" cy="407.4" r="1.05"/>
<circle cx="269.5" cy="407.4" r="1.05"/>
<circle cx="260.0" cy="409.4" r="1.05"/>
<circle cx="263.2" cy="409.4" r="1.05"/>
<circle cx="266.5" cy="409.4" r="1.05"/>
<circle cx="258.8" cy="411.2" r="1.05"/>
<circle cx="262.0" cy="411.2" r="1.05"/>
<circle cx="265.1" cy="411.2" r="1.05"/>
<circle cx="268.3" cy="411.2" r="1.05"/>
<circle cx="259.0" cy="412.8" r="1.05"/>
<circle cx="262.0" cy="412.8" r="1.05"/>
<circle cx="265.0" cy="412.8" r="1.05"/>
<circle cx="268.0" cy="412.8" r="1.05"/>
<circle cx="256.6" cy="414.3" r="1.05"/>
<circle cx="258.8" cy="414.3" r="1.05"/>
<circle cx="261.2" cy="414.3" r="1.05"/>
<circle cx="265.8" cy="414.3" r="1.05"/>
<circle cx="268.3" cy="414.3" r="1.05"/>
<circle cx="271.0" cy="414.3" r="1.05"/>
<circle cx="263.1" cy="416.8" r="1.05"/>
<circle cx="261.2" cy="419.2" r="1.05"/>
<circle cx="265.8" cy="419.2" r="1.05"/>
<circle cx="262.8" cy="421.7" r="1.05"/>
<circle cx="264.6" cy="423.8" r="1.05"/>
<circle cx="259.7" cy="428.8" r="1.05"/>
<circle cx="262.5" cy="428.8" r="1.05"/>
<circle cx="265.2" cy="428.8" r="1.05"/>
<circle cx="268.0" cy="428.8" r="1.05"/>
<circle cx="322.3" cy="324.5" r="1.05"/>
<circle cx="322.3" cy="343.8" r="1.05"/>
<circle cx="323.5" cy="354.4" r="1.05"/>
<circle cx="321.2" cy="355.6" r="1.05"/>
<circle cx="317.6" cy="356.9" r="1.05"/>
<circle cx="325.0" cy="356.9" r="1.05"/>
<circle cx="327.2" cy="356.9" r="1.05"/>
<circle cx="319.7" cy="359.5" r="1.05"/>
<circle cx="322.7" cy="359.5" r="1.05"/>
<circle cx="322.3" cy="363.1" r="1.05"/>
<circle cx="317.6" cy="364.0" r="1.05"/>
<circle cx="327.2" cy="364.0" r="1.05"/>
<circle cx="319.7" cy="365.6" r="1.05"/>
<circle cx="322.3" cy="365.6" r="1.05"/>
<circle cx="325.0" cy="365.6" r="1.05"/>
<circle cx="313.8" cy="370.8" r="1.05"/>
<circle cx="328.2" cy="370.8" r="1.05"/>
<circle cx="331.2" cy="370.8" r="1.05"/>
<circle cx="316.5" cy="371.6" r="1.05"/>
<circle cx="318.7" cy="371.6" r="1.05"/>
<circle cx="321.0" cy="371.6" r="1.05"/>
<circle cx="323.6" cy="371.6" r="1.05"/>
<circle cx="326.3" cy="371.6" r="1.05"/>
<circle cx="321.2" cy="373.2" r="1.05"/>
<circle cx="318.7" cy="376.1" r="1.05"/>
<circle cx="323.3" cy="376.1" r="1.05"/>
<circle cx="325.9" cy="376.1" r="1.05"/>
<circle cx="321.2" cy="378.4" r="1.05"/>
<circle cx="318.7" cy="380.4" r="1.05"/>
<circle cx="321.4" cy="380.4" r="1.05"/>
<circle cx="326.3" cy="380.4" r="1.05"/>
<circle cx="313.2" cy="382.6" r="1.05"/>
<circle cx="315.9" cy="382.6" r="1.05"/>
<circle cx="318.5" cy="382.6" r="1.05"/>
<circle cx="321.2" cy="382.6" r="1.05"/>
<circle cx="323.8" cy="382.6" r="1.05"/>
<circle cx="326.5" cy="382.6" r="1.05"/>
<circle cx="329.1" cy="382.6" r="1.05"/>
<circle cx="331.8" cy="382.6" r="1.05"/>
<circle cx="313.5" cy="386.1" r="1.05"/>
<circle cx="316.1" cy="386.1" r="1.05"/>
<circle cx="318.6" cy="386.1" r="1.05"/>
<circle cx="321.2" cy="386.1" r="1.05"/>
<circle cx="323.8" cy="386.1" r="1.05"/>
<circle cx="326.4" cy="386.1" r="1.05"/>
<circle cx="328.9" cy="386.1" r="1.05"/>
<circle cx="331.5" cy="386.1" r="1.05"/>
<circle cx="315.8" cy="390.1" r="1.05"/>
<circle cx="318.4" cy="390.1" r="1.05"/>
<circle cx="321.0" cy="390.1" r="1.05"/>
<circle cx="323.6" cy="390.1" r="1.05"/>
<circle cx="326.3" cy="390.1" r="1.05"/>
<circle cx="328.9" cy="390.1" r="1.05"/>
<circle cx="331.5" cy="390.1" r="1.05"/>
<circle cx="313.2" cy="392.7" r="1.05"/>
<circle cx="315.9" cy="392.7" r="1.05"/>
<circle cx="318.6" cy="392.7" r="1.05"/>
<circle cx="321.4" cy="392.7" r="1.05"/>
<circle cx="324.1" cy="392.7" r="1.05"/>
<circle cx="326.8" cy="392.7" r="1.05"/>
<circle cx="329.5" cy="392.7" r="1.05"/>
<circle cx="319.7" cy="395.6" r="1.05"/>
<circle cx="322.3" cy="395.6" r="1.05"/>
<circle cx="325.0" cy="395.6" r="1.05"/>
<circle cx="325.0" cy="397.6" r="1.05"/>
<circle cx="316.1" cy="400.0" r="1.05"/>
<circle cx="319.7" cy="400.0" r="1.05"/>
<circle cx="322.3" cy="400.0" r="1.05"/>
<circle cx="325.9" cy="400.0" r="1.05"/>
<circle cx="328.5" cy="400.0" r="1.05"/>
<circle cx="318.4" cy="402.6" r="1.05"/>
<circle cx="321.0" cy="402.6" r="1.05"/>
<circle cx="323.6" cy="402.6" r="1.05"/>
<circle cx="319.7" cy="404.6" r="1.05"/>
<circle cx="322.3" cy="404.6" r="1.05"/>
<circle cx="325.0" cy="404.6" r="1.05"/>
<circle cx="321.0" cy="407.5" r="1.05"/>
<circle cx="323.6" cy="407.5" r="1.05"/>
<circle cx="316.0" cy="409.8" r="1.05"/>
<circle cx="319.7" cy="409.8" r="1.05"/>
<circle cx="323.3" cy="409.8" r="1.05"/>
<circle cx="327.0" cy="409.8" r="1.05"/>
<circle cx="316.5" cy="412.1" r="1.05"/>
<circle cx="319.3" cy="412.1" r="1.05"/>
<circle cx="322.1" cy="412.1" r="1.05"/>
<circle cx="324.8" cy="412.1" r="1.05"/>
<circle cx="327.6" cy="412.1" r="1.05"/>
<circle cx="319.7" cy="414.5" r="1.05"/>
<circle cx="325.0" cy="414.5" r="1.05"/>
<circle cx="322.3" cy="416.7" r="1.05"/>
<circle cx="321.0" cy="419.3" r="1.05"/>
<circle cx="323.6" cy="419.3" r="1.05"/>
<circle cx="321.2" cy="421.9" r="1.05"/>
<circle cx="380.3" cy="309.9" r="1.05"/>
<circle cx="381.6" cy="320.9" r="1.05"/>
<circle cx="379.2" cy="322.3" r="1.05"/>
<circle cx="380.3" cy="325.9" r="1.05"/>
<circle cx="380.3" cy="329.5" r="1.05"/>
<circle cx="379.2" cy="335.4" r="1.05"/>
<circle cx="381.6" cy="337.9" r="1.05"/>
<circle cx="375.4" cy="341.5" r="1.05"/>
<circle cx="378.1" cy="341.5" r="1.05"/>
<circle cx="385.2" cy="341.5" r="1.05"/>
<circle cx="380.3" cy="343.8" r="1.05"/>
<circle cx="383.0" cy="343.8" r="1.05"/>
<circle cx="385.2" cy="345.1" r="1.05"/>
<circle cx="375.4" cy="345.8" r="1.05"/>
<circle cx="383.0" cy="345.8" r="1.05"/>
<circle cx="378.1" cy="347.4" r="1.05"/>
<circle cx="380.3" cy="347.4" r="1.05"/>
<circle cx="375.4" cy="348.7" r="1.05"/>
<circle cx="385.2" cy="348.7" r="1.05"/>
<circle cx="377.7" cy="349.7" r="1.05"/>
<circle cx="380.3" cy="349.7" r="1.05"/>
<circle cx="383.0" cy="349.7" r="1.05"/>
<circle cx="383.0" cy="355.9" r="1.05"/>
<circle cx="377.7" cy="356.9" r="1.05"/>
<circle cx="380.3" cy="356.9" r="1.05"/>
<circle cx="373.2" cy="358.5" r="1.05"/>
<circle cx="387.9" cy="358.5" r="1.05"/>
<circle cx="375.4" cy="359.5" r="1.05"/>
<circle cx="377.7" cy="359.5" r="1.05"/>
<circle cx="385.2" cy="359.5" r="1.05"/>
<circle cx="380.3" cy="360.5" r="1.05"/>
<circle cx="383.0" cy="360.5" r="1.05"/>
<circle cx="376.7" cy="362.8" r="1.05"/>
<circle cx="383.9" cy="362.8" r="1.05"/>
<circle cx="379.0" cy="364.1" r="1.05"/>
<circle cx="381.6" cy="364.1" r="1.05"/>
<circle cx="375.4" cy="365.7" r="1.05"/>
<circle cx="377.7" cy="365.7" r="1.05"/>
<circle cx="383.0" cy="365.7" r="1.05"/>
<circle cx="385.2" cy="365.7" r="1.05"/>
<circle cx="380.3" cy="367.3" r="1.05"/>
<circle cx="378.1" cy="370.2" r="1.05"/>
<circle cx="383.0" cy="370.2" r="1.05"/>
<circle cx="380.3" cy="372.2" r="1.05"/>
<circle cx="375.4" cy="373.2" r="1.05"/>
<circle cx="378.1" cy="373.2" r="1.05"/>
<circle cx="383.0" cy="373.2" r="1.05"/>
<circle cx="385.2" cy="373.2" r="1.05"/>
<circle cx="379.7" cy="375.8" r="1.05"/>
<circle cx="381.5" cy="381.0" r="1.05"/>
<circle cx="379.2" cy="382.6" r="1.05"/>
<circle cx="375.4" cy="383.9" r="1.05"/>
<circle cx="383.0" cy="383.9" r="1.05"/>
<circle cx="385.2" cy="383.9" r="1.05"/>
<circle cx="378.1" cy="385.6" r="1.05"/>
<circle cx="380.3" cy="385.6" r="1.05"/>
<circle cx="378.1" cy="387.2" r="1.05"/>
<circle cx="383.0" cy="388.5" r="1.05"/>
<circle cx="380.3" cy="389.8" r="1.05"/>
<circle cx="374.1" cy="390.8" r="1.05"/>
<circle cx="376.7" cy="392.4" r="1.05"/>
<circle cx="379.2" cy="392.4" r="1.05"/>
<circle cx="381.6" cy="392.4" r="1.05"/>
<circle cx="383.9" cy="392.4" r="1.05"/>
<circle cx="386.5" cy="392.4" r="1.05"/>
<circle cx="376.7" cy="394.4" r="1.05"/>
<circle cx="381.6" cy="394.4" r="1.05"/>
<circle cx="383.9" cy="394.4" r="1.05"/>
<circle cx="375.4" cy="397.5" r="1.05"/>
<circle cx="379.2" cy="397.5" r="1.05"/>
<circle cx="385.2" cy="397.5" r="1.05"/>
<circle cx="377.7" cy="399.9" r="1.05"/>
<circle cx="380.3" cy="399.9" r="1.05"/>
<circle cx="383.0" cy="399.9" r="1.05"/>
<circle cx="373.2" cy="402.5" r="1.05"/>
<circle cx="375.4" cy="402.5" r="1.05"/>
<circle cx="385.2" cy="402.5" r="1.05"/>
<circle cx="387.9" cy="402.5" r="1.05"/>
<circle cx="377.7" cy="405.2" r="1.05"/>
<circle cx="380.3" cy="405.2" r="1.05"/>
<circle cx="383.0" cy="405.2" r="1.05"/>
<circle cx="374.5" cy="409.7" r="1.05"/>
<circle cx="377.8" cy="409.7" r="1.05"/>
<circle cx="381.0" cy="409.7" r="1.05"/>
<circle cx="384.2" cy="409.7" r="1.05"/>
<circle cx="387.5" cy="409.7" r="1.05"/>
<circle cx="376.0" cy="412.3" r="1.05"/>
<circle cx="379.8" cy="412.3" r="1.05"/>
<circle cx="383.5" cy="412.3" r="1.05"/>
<circle cx="377.7" cy="414.6" r="1.05"/>
<circle cx="383.0" cy="414.6" r="1.05"/>
<circle cx="380.3" cy="416.8" r="1.05"/>
<circle cx="377.7" cy="419.2" r="1.05"/>
<circle cx="380.3" cy="419.2" r="1.05"/>
<circle cx="383.0" cy="419.2" r="1.05"/>
<circle cx="379.2" cy="424.1" r="1.05"/>
<circle cx="381.6" cy="424.1" r="1.05"/>
<circle cx="377.7" cy="426.4" r="1.05"/>
<circle cx="380.3" cy="428.7" r="1.05"/>
<circle cx="383.0" cy="428.7" r="1.05"/>
<circle cx="436.9" cy="340.2" r="1.05"/>
<circle cx="436.9" cy="360.8" r="1.05"/>
<circle cx="434.4" cy="374.4" r="1.05"/>
<circle cx="439.3" cy="375.5" r="1.05"/>
<circle cx="436.9" cy="376.1" r="1.05"/>
<circle cx="436.9" cy="379.4" r="1.05"/>
<circle cx="438.2" cy="381.6" r="1.05"/>
<circle cx="435.6" cy="384.0" r="1.05"/>
<circle cx="436.9" cy="389.9" r="1.05"/>
<circle cx="436.9" cy="392.5" r="1.05"/>
<circle cx="435.6" cy="395.1" r="1.05"/>
<circle cx="438.2" cy="395.1" r="1.05"/>
<circle cx="431.8" cy="397.0" r="1.05"/>
<circle cx="434.4" cy="398.0" r="1.05"/>
<circle cx="436.9" cy="398.0" r="1.05"/>
<circle cx="439.5" cy="398.0" r="1.05"/>
<circle cx="441.9" cy="398.0" r="1.05"/>
<circle cx="434.4" cy="402.2" r="1.05"/>
<circle cx="436.9" cy="402.2" r="1.05"/>
<circle cx="439.5" cy="402.2" r="1.05"/>
<circle cx="433.1" cy="404.5" r="1.05"/>
<circle cx="435.7" cy="404.5" r="1.05"/>
<circle cx="438.3" cy="404.5" r="1.05"/>
<circle cx="440.8" cy="404.5" r="1.05"/>
<circle cx="431.8" cy="407.1" r="1.05"/>
<circle cx="434.2" cy="407.1" r="1.05"/>
<circle cx="439.0" cy="407.1" r="1.05"/>
<circle cx="441.6" cy="407.1" r="1.05"/>
<circle cx="428.0" cy="409.7" r="1.05"/>
<circle cx="431.6" cy="409.7" r="1.05"/>
<circle cx="435.2" cy="409.7" r="1.05"/>
<circle cx="438.8" cy="409.7" r="1.05"/>
<circle cx="442.4" cy="409.7" r="1.05"/>
<circle cx="446.0" cy="409.7" r="1.05"/>
<circle cx="429.8" cy="412.0" r="1.05"/>
<circle cx="432.5" cy="412.0" r="1.05"/>
<circle cx="435.3" cy="412.0" r="1.05"/>
<circle cx="438.0" cy="412.0" r="1.05"/>
<circle cx="440.8" cy="412.0" r="1.05"/>
<circle cx="443.5" cy="412.0" r="1.05"/>
<circle cx="427.5" cy="416.9" r="1.05"/>
<circle cx="429.2" cy="416.9" r="1.05"/>
<circle cx="443.2" cy="416.9" r="1.05"/>
<circle cx="445.8" cy="416.9" r="1.05"/>
<circle cx="431.8" cy="419.2" r="1.05"/>
<circle cx="434.2" cy="419.2" r="1.05"/>
<circle cx="436.7" cy="419.2" r="1.05"/>
<circle cx="439.2" cy="419.2" r="1.05"/>
<circle cx="441.6" cy="419.2" r="1.05"/>
<circle cx="431.8" cy="421.5" r="1.05"/>
<circle cx="435.7" cy="421.5" r="1.05"/>
<circle cx="438.3" cy="421.5" r="1.05"/>
<circle cx="441.6" cy="421.5" r="1.05"/>
<circle cx="434.0" cy="424.1" r="1.05"/>
<circle cx="436.7" cy="424.1" r="1.05"/>
<circle cx="429.8" cy="426.4" r="1.05"/>
<circle cx="431.1" cy="428.7" r="1.05"/>
<circle cx="433.3" cy="428.7" r="1.05"/>
<circle cx="435.6" cy="428.7" r="1.05"/>
<circle cx="437.8" cy="428.7" r="1.05"/>
<circle cx="440.0" cy="428.7" r="1.05"/>
<circle cx="442.3" cy="428.7" r="1.05"/>
<circle cx="444.5" cy="428.7" r="1.05"/>
<circle cx="490.9" cy="347.5" r="1.05"/>
<circle cx="492.0" cy="347.5" r="1.05"/>
<circle cx="493.3" cy="349.8" r="1.05"/>
<circle cx="492.0" cy="353.1" r="1.05"/>
<circle cx="490.9" cy="359.5" r="1.05"/>
<circle cx="493.3" cy="359.5" r="1.05"/>
<circle cx="489.7" cy="363.2" r="1.05"/>
<circle cx="494.8" cy="363.2" r="1.05"/>
<circle cx="492.0" cy="364.3" r="1.05"/>
<circle cx="489.7" cy="366.8" r="1.05"/>
<circle cx="494.8" cy="366.8" r="1.05"/>
<circle cx="492.0" cy="368.2" r="1.05"/>
<circle cx="488.4" cy="373.6" r="1.05"/>
<circle cx="495.9" cy="373.6" r="1.05"/>
<circle cx="493.3" cy="374.6" r="1.05"/>
<circle cx="488.4" cy="376.2" r="1.05"/>
<circle cx="491.0" cy="376.2" r="1.05"/>
<circle cx="495.9" cy="376.2" r="1.05"/>
<circle cx="493.3" cy="378.5" r="1.05"/>
<circle cx="487.1" cy="380.5" r="1.05"/>
<circle cx="489.7" cy="380.5" r="1.05"/>
<circle cx="494.6" cy="380.5" r="1.05"/>
<circle cx="497.2" cy="380.5" r="1.05"/>
<circle cx="492.0" cy="382.7" r="1.05"/>
<circle cx="488.4" cy="385.7" r="1.05"/>
<circle cx="495.9" cy="385.7" r="1.05"/>
<circle cx="491.0" cy="387.3" r="1.05"/>
<circle cx="493.3" cy="387.3" r="1.05"/>
<circle cx="495.9" cy="388.6" r="1.05"/>
<circle cx="488.4" cy="390.9" r="1.05"/>
<circle cx="491.0" cy="390.9" r="1.05"/>
<circle cx="493.3" cy="390.9" r="1.05"/>
<circle cx="484.5" cy="392.9" r="1.05"/>
<circle cx="485.8" cy="392.9" r="1.05"/>
<circle cx="497.2" cy="392.9" r="1.05"/>
<circle cx="499.5" cy="392.9" r="1.05"/>
<circle cx="492.5" cy="394.8" r="1.05"/>
<circle cx="494.8" cy="394.8" r="1.05"/>
<circle cx="488.4" cy="398.1" r="1.05"/>
<circle cx="490.9" cy="398.1" r="1.05"/>
<circle cx="493.4" cy="398.1" r="1.05"/>
<circle cx="495.9" cy="398.1" r="1.05"/>
<circle cx="491.0" cy="400.2" r="1.05"/>
<circle cx="493.3" cy="400.2" r="1.05"/>
<circle cx="489.7" cy="402.5" r="1.05"/>
<circle cx="494.6" cy="402.5" r="1.05"/>
<circle cx="488.4" cy="404.2" r="1.05"/>
<circle cx="492.0" cy="404.2" r="1.05"/>
<circle cx="494.6" cy="404.2" r="1.05"/>
<circle cx="491.0" cy="406.9" r="1.05"/>
<circle cx="493.3" cy="406.9" r="1.05"/>
<circle cx="495.9" cy="406.9" r="1.05"/>
<circle cx="485.8" cy="409.8" r="1.05"/>
<circle cx="488.5" cy="409.8" r="1.05"/>
<circle cx="491.3" cy="409.8" r="1.05"/>
<circle cx="494.0" cy="409.8" r="1.05"/>
<circle cx="489.7" cy="412.1" r="1.05"/>
<circle cx="492.1" cy="412.1" r="1.05"/>
<circle cx="494.6" cy="412.1" r="1.05"/>
<circle cx="489.7" cy="414.4" r="1.05"/>
<circle cx="492.3" cy="414.4" r="1.05"/>
<circle cx="494.6" cy="414.4" r="1.05"/>
<circle cx="489.7" cy="416.7" r="1.05"/>
<circle cx="494.6" cy="416.7" r="1.05"/>
<circle cx="489.7" cy="419.3" r="1.05"/>
<circle cx="492.3" cy="419.3" r="1.05"/>
<circle cx="494.6" cy="419.3" r="1.05"/>
<circle cx="492.0" cy="421.2" r="1.05"/>
<circle cx="489.7" cy="423.9" r="1.05"/>
<circle cx="492.3" cy="423.9" r="1.05"/>
<circle cx="494.6" cy="423.9" r="1.05"/>
<circle cx="498.2" cy="426.5" r="1.05"/>
<circle cx="485.5" cy="428.8" r="1.05"/>
<circle cx="487.5" cy="428.8" r="1.05"/>
<circle cx="489.5" cy="428.8" r="1.05"/>
<circle cx="491.6" cy="428.8" r="1.05"/>
<circle cx="493.6" cy="428.8" r="1.05"/>
<circle cx="495.6" cy="428.8" r="1.05"/>
</g>
<text x="1.6" y="489.0" font-size="24.2" font-weight="bold" fill="#000" text-anchor="start" stroke="#000" stroke-width="0.6">C</text>
<line x1="49.8" y1="619.6" x2="517.9" y2="619.6" stroke="#222" stroke-width="1.0" stroke-linecap="butt" stroke-dasharray="1 1.58"/>
<line x1="46.7" y1="631.2" x2="517.9" y2="631.2" stroke="#222" stroke-width="1.5" stroke-linecap="butt" stroke-dasharray="5 3.62"/>
<text x="152.39999999999998" y="615.9" font-size="10" font-weight="normal" fill="#1a1a1a" text-anchor="start" stroke="#1a1a1a" stroke-width="0.2" textLength="40.4" lengthAdjust="spacingAndGlyphs">centrocytes</text>
<text x="151.1" y="643.3" font-size="10" font-weight="normal" fill="#1a1a1a" text-anchor="start" stroke="#1a1a1a" stroke-width="0.2" textLength="42.1" lengthAdjust="spacingAndGlyphs">centroblasts</text>
<line x1="214.45" y1="599.2" x2="214.45" y2="595.9" stroke="#222" stroke-width="1.3" stroke-linecap="butt"/>
<line x1="205.25" y1="595.9" x2="223.5" y2="595.9" stroke="#222" stroke-width="1.4" stroke-linecap="butt"/>
<rect x="196.22" y="599.93" width="36.45" height="68.28" fill="#F2E815" stroke="#22180a" stroke-width="1.45"/>
<line x1="263.85" y1="583.8" x2="263.85" y2="575.8" stroke="#222" stroke-width="1.3" stroke-linecap="butt"/>
<line x1="254.8" y1="575.8" x2="272.5" y2="575.8" stroke="#222" stroke-width="1.4" stroke-linecap="butt"/>
<rect x="245.42" y="584.52" width="36.85" height="83.68" fill="#E09538" stroke="#22180a" stroke-width="1.45"/>
<line x1="322.5" y1="553.7" x2="322.5" y2="545.8" stroke="#222" stroke-width="1.3" stroke-linecap="butt"/>
<line x1="313.1" y1="545.8" x2="331.6" y2="545.8" stroke="#222" stroke-width="1.4" stroke-linecap="butt"/>
<rect x="304.12" y="554.43" width="36.75" height="113.78" fill="#CE1120" stroke="#22180a" stroke-width="1.45"/>
<line x1="380.5" y1="557.5" x2="380.5" y2="550.9" stroke="#222" stroke-width="1.3" stroke-linecap="butt"/>
<line x1="371.8" y1="550.9" x2="389" y2="550.9" stroke="#222" stroke-width="1.4" stroke-linecap="butt"/>
<rect x="362.12" y="558.23" width="36.75" height="109.98" fill="#CE1120" stroke="#22180a" stroke-width="1.45"/>
<line x1="437.0" y1="608.6" x2="437.0" y2="604" stroke="#222" stroke-width="1.3" stroke-linecap="butt"/>
<line x1="428.6" y1="604" x2="446" y2="604" stroke="#222" stroke-width="1.4" stroke-linecap="butt"/>
<rect x="418.73" y="609.33" width="36.55" height="58.88" fill="#E09538" stroke="#22180a" stroke-width="1.45"/>
<line x1="492.2" y1="633.8" x2="492.2" y2="623.2" stroke="#222" stroke-width="1.3" stroke-linecap="butt"/>
<line x1="483.6" y1="623.2" x2="501" y2="623.2" stroke="#222" stroke-width="1.4" stroke-linecap="butt"/>
<rect x="474.12" y="634.52" width="36.15" height="33.68" fill="#F2E815" stroke="#22180a" stroke-width="1.45"/>
<line x1="47.0" y1="505.20000000000005" x2="519.6999999999999" y2="505.20000000000005" stroke="#111" stroke-width="1.65" stroke-linecap="butt"/>
<line x1="48.0" y1="504.40000000000003" x2="48.0" y2="674.4000000000001" stroke="#111" stroke-width="1.65" stroke-linecap="butt"/>
<line x1="518.9" y1="504.40000000000003" x2="518.9" y2="674.4000000000001" stroke="#111" stroke-width="1.65" stroke-linecap="butt"/>
<line x1="48.0" y1="668.2" x2="518.9" y2="668.2" stroke="#111" stroke-width="1.65" stroke-linecap="butt"/>
<line x1="100" y1="668.2" x2="100" y2="674.4000000000001" stroke="#111" stroke-width="1.1" stroke-linecap="butt"/>
<line x1="148" y1="668.2" x2="148" y2="674.4000000000001" stroke="#111" stroke-width="1.1" stroke-linecap="butt"/>
<line x1="194.6" y1="668.2" x2="194.6" y2="674.4000000000001" stroke="#111" stroke-width="1.1" stroke-linecap="butt"/>
<line x1="234.2" y1="668.2" x2="234.2" y2="674.4000000000001" stroke="#111" stroke-width="1.1" stroke-linecap="butt"/>
<line x1="294" y1="668.2" x2="294" y2="674.4000000000001" stroke="#111" stroke-width="1.1" stroke-linecap="butt"/>
<line x1="351.5" y1="668.2" x2="351.5" y2="674.4000000000001" stroke="#111" stroke-width="1.1" stroke-linecap="butt"/>
<line x1="409.5" y1="668.2" x2="409.5" y2="674.4000000000001" stroke="#111" stroke-width="1.1" stroke-linecap="butt"/>
<line x1="465.4" y1="668.2" x2="465.4" y2="674.4000000000001" stroke="#111" stroke-width="1.1" stroke-linecap="butt"/>
<line x1="45.0" y1="668.2" x2="48.0" y2="668.2" stroke="#111" stroke-width="1.2" stroke-linecap="butt"/>
<text x="35.003710937499996" y="671.5" font-size="12.4" font-weight="normal" fill="#1a1a1a" text-anchor="start" stroke="#1a1a1a" stroke-width="0.2">0</text>
<line x1="45.4" y1="647.825" x2="48.0" y2="647.825" stroke="#111" stroke-width="1.2" stroke-linecap="butt"/>
<line x1="45.0" y1="627.45" x2="48.0" y2="627.45" stroke="#111" stroke-width="1.2" stroke-linecap="butt"/>
<text x="28.107421875" y="630.75" font-size="12.4" font-weight="normal" fill="#1a1a1a" text-anchor="start" stroke="#1a1a1a" stroke-width="0.2"> 0</text>
<path transform="translate(28.11,630.75) scale(0.00605,-0.00605)" d="M763 0H583V1147Q518 1085 412 1023T222 930V1104Q372 1175 484 1276T643 1466H763Z" fill="#1a1a1a" stroke="#1a1a1a" stroke-width="33.0"/>
<line x1="45.4" y1="607.075" x2="48.0" y2="607.075" stroke="#111" stroke-width="1.2" stroke-linecap="butt"/>
<line x1="45.0" y1="586.7" x2="48.0" y2="586.7" stroke="#111" stroke-width="1.2" stroke-linecap="butt"/>
<text x="28.107421875" y="590.0" font-size="12.4" font-weight="normal" fill="#1a1a1a" text-anchor="start" stroke="#1a1a1a" stroke-width="0.2">20</text>
<line x1="45.4" y1="566.325" x2="48.0" y2="566.325" stroke="#111" stroke-width="1.2" stroke-linecap="butt"/>
<line x1="45.0" y1="545.95" x2="48.0" y2="545.95" stroke="#111" stroke-width="1.2" stroke-linecap="butt"/>
<text x="28.107421875" y="549.25" font-size="12.4" font-weight="normal" fill="#1a1a1a" text-anchor="start" stroke="#1a1a1a" stroke-width="0.2">30</text>
<line x1="45.4" y1="525.575" x2="48.0" y2="525.575" stroke="#111" stroke-width="1.2" stroke-linecap="butt"/>
<line x1="45.0" y1="505.20000000000005" x2="48.0" y2="505.20000000000005" stroke="#111" stroke-width="1.2" stroke-linecap="butt"/>
<text x="28.107421875" y="508.50000000000006" font-size="12.4" font-weight="normal" fill="#1a1a1a" text-anchor="start" stroke="#1a1a1a" stroke-width="0.2">40</text>
<text transform="translate(20.2,587.0) rotate(-90)" font-size="12.5" font-weight="normal" fill="#1a1a1a" text-anchor="middle" stroke="#1a1a1a" stroke-width="0.2" textLength="139" lengthAdjust="spacingAndGlyphs">mutated IGKV3-20 alleles (%)</text>
<text x="51.66" y="682.9" font-size="12.6" font-weight="normal" fill="#1a1a1a" text-anchor="start" stroke="#1a1a1a" stroke-width="0.25" textLength="43.54" lengthAdjust="spacingAndGlyphs">transitional</text>
<text x="103.19" y="682.9" font-size="12.6" font-weight="normal" fill="#1a1a1a" text-anchor="start" stroke="#1a1a1a" stroke-width="0.25" textLength="42.35" lengthAdjust="spacingAndGlyphs">naive mat.</text>
<text x="199.71" y="682.9" font-size="12.6" font-weight="normal" fill="#1a1a1a" text-anchor="start" stroke="#1a1a1a" stroke-width="0.25" textLength="29.6" lengthAdjust="spacingAndGlyphs">nat. eff.</text>
<text x="238.33" y="682.9" font-size="12.6" font-weight="normal" fill="#1a1a1a" text-anchor="start" stroke="#1a1a1a" stroke-width="0.25" textLength="23.43" lengthAdjust="spacingAndGlyphs">CD27</text>
<line x1="263.0" y1="674.5" x2="267.0" y2="674.5" stroke="#1a1a1a" stroke-width="1.2" stroke-linecap="butt"/>
<line x1="265.0" y1="671.75" x2="265.0" y2="677.25" stroke="#1a1a1a" stroke-width="1.2" stroke-linecap="butt"/>
<text x="268.82" y="682.9" font-size="12.6" font-weight="normal" fill="#1a1a1a" text-anchor="start" stroke="#1a1a1a" stroke-width="0.25" textLength="15.97" lengthAdjust="spacingAndGlyphs">IgM</text>
<line x1="284.5" y1="674.5" x2="288.9" y2="674.5" stroke="#1a1a1a" stroke-width="1.2" stroke-linecap="butt"/>
<line x1="286.7" y1="671.75" x2="286.7" y2="677.25" stroke="#1a1a1a" stroke-width="1.2" stroke-linecap="butt"/>
<text x="297.31" y="682.9" font-size="12.6" font-weight="normal" fill="#1a1a1a" text-anchor="start" stroke="#1a1a1a" stroke-width="0.25" textLength="24.88" lengthAdjust="spacingAndGlyphs">CD27</text>
<line x1="322.1" y1="674.5" x2="326.5" y2="674.5" stroke="#1a1a1a" stroke-width="1.2" stroke-linecap="butt"/>
<line x1="324.3" y1="671.75" x2="324.3" y2="677.25" stroke="#1a1a1a" stroke-width="1.2" stroke-linecap="butt"/>
<text x="327.61" y="682.9" font-size="12.6" font-weight="normal" fill="#1a1a1a" text-anchor="start" stroke="#1a1a1a" stroke-width="0.25" textLength="15.51" lengthAdjust="spacingAndGlyphs">IgG</text>
<line x1="342.90000000000003" y1="674.5" x2="347.59999999999997" y2="674.5" stroke="#1a1a1a" stroke-width="1.2" stroke-linecap="butt"/>
<line x1="345.25" y1="671.75" x2="345.25" y2="677.25" stroke="#1a1a1a" stroke-width="1.2" stroke-linecap="butt"/>
<text x="355.93" y="682.9" font-size="12.6" font-weight="normal" fill="#1a1a1a" text-anchor="start" stroke="#1a1a1a" stroke-width="0.25" textLength="23.84" lengthAdjust="spacingAndGlyphs">CD27</text>
<line x1="380.40000000000003" y1="674.5" x2="384.9" y2="674.5" stroke="#1a1a1a" stroke-width="1.2" stroke-linecap="butt"/>
<line x1="382.65" y1="671.75" x2="382.65" y2="677.25" stroke="#1a1a1a" stroke-width="1.2" stroke-linecap="butt"/>
<text x="385.63" y="682.9" font-size="12.6" font-weight="normal" fill="#1a1a1a" text-anchor="start" stroke="#1a1a1a" stroke-width="0.25" textLength="14.08" lengthAdjust="spacingAndGlyphs">IgA</text>
<line x1="399.8" y1="674.5" x2="404.2" y2="674.5" stroke="#1a1a1a" stroke-width="1.2" stroke-linecap="butt"/>
<line x1="402.0" y1="671.75" x2="402.0" y2="677.25" stroke="#1a1a1a" stroke-width="1.2" stroke-linecap="butt"/>
<text x="413.13" y="682.9" font-size="12.6" font-weight="normal" fill="#1a1a1a" text-anchor="start" stroke="#1a1a1a" stroke-width="0.25" textLength="23.63" lengthAdjust="spacingAndGlyphs">CD27</text>
<line x1="437.0" y1="674.9" x2="439.6" y2="674.9" stroke="#1a1a1a" stroke-width="1.4" stroke-linecap="butt"/>
<text x="439.64" y="682.9" font-size="12.6" font-weight="normal" fill="#1a1a1a" text-anchor="start" stroke="#1a1a1a" stroke-width="0.25" textLength="16.73" lengthAdjust="spacingAndGlyphs">IgG</text>
<line x1="455.90000000000003" y1="674.5" x2="460.59999999999997" y2="674.5" stroke="#1a1a1a" stroke-width="1.2" stroke-linecap="butt"/>
<line x1="458.25" y1="671.75" x2="458.25" y2="677.25" stroke="#1a1a1a" stroke-width="1.2" stroke-linecap="butt"/>
<text x="468.84" y="682.9" font-size="12.6" font-weight="normal" fill="#1a1a1a" text-anchor="start" stroke="#1a1a1a" stroke-width="0.25" textLength="23.22" lengthAdjust="spacingAndGlyphs">CD27</text>
<line x1="492.2" y1="674.9" x2="494.8" y2="674.9" stroke="#1a1a1a" stroke-width="1.4" stroke-linecap="butt"/>
<text x="494.09" y="682.9" font-size="12.6" font-weight="normal" fill="#1a1a1a" text-anchor="start" stroke="#1a1a1a" stroke-width="0.25" textLength="15.63" lengthAdjust="spacingAndGlyphs">IgA</text>
<line x1="510.1" y1="674.5" x2="514.45" y2="674.5" stroke="#1a1a1a" stroke-width="1.2" stroke-linecap="butt"/>
<line x1="512.275" y1="671.75" x2="512.275" y2="677.25" stroke="#1a1a1a" stroke-width="1.2" stroke-linecap="butt"/>
<text x="67.6" y="698.5" font-size="12.6" font-weight="normal" fill="#1a1a1a" text-anchor="start" stroke="#1a1a1a" stroke-width="0.25" textLength="11.200000000000001" lengthAdjust="spacingAndGlyphs">(7)</text>
<text x="119.19999999999999" y="698.5" font-size="12.6" font-weight="normal" fill="#1a1a1a" text-anchor="start" stroke="#1a1a1a" stroke-width="0.25" textLength="11.200000000000001" lengthAdjust="spacingAndGlyphs">(7)</text>
<text x="208.8" y="698.5" font-size="12.6" font-weight="normal" fill="#1a1a1a" text-anchor="start" stroke="#1a1a1a" stroke-width="0.25" textLength="11.200000000000001" lengthAdjust="spacingAndGlyphs">(6)</text>
<text x="258.3" y="698.5" font-size="12.6" font-weight="normal" fill="#1a1a1a" text-anchor="start" stroke="#1a1a1a" stroke-width="0.25" textLength="11.200000000000001" lengthAdjust="spacingAndGlyphs">(6)</text>
<text x="316.90000000000003" y="698.5" font-size="12.6" font-weight="normal" fill="#1a1a1a" text-anchor="start" stroke="#1a1a1a" stroke-width="0.25" textLength="11.200000000000001" lengthAdjust="spacingAndGlyphs">(8)</text>
<text x="374.90000000000003" y="698.5" font-size="12.6" font-weight="normal" fill="#1a1a1a" text-anchor="start" stroke="#1a1a1a" stroke-width="0.25" textLength="11.200000000000001" lengthAdjust="spacingAndGlyphs">(7)</text>
<text x="431.40000000000003" y="698.5" font-size="12.6" font-weight="normal" fill="#1a1a1a" text-anchor="start" stroke="#1a1a1a" stroke-width="0.25" textLength="11.200000000000001" lengthAdjust="spacingAndGlyphs">(3)</text>
<text x="486.40000000000003" y="698.5" font-size="12.6" font-weight="normal" fill="#1a1a1a" text-anchor="start" stroke="#1a1a1a" stroke-width="0.25" textLength="11.200000000000001" lengthAdjust="spacingAndGlyphs">(3)</text>
<text x="319.2" y="544.0" font-size="17" font-weight="normal" fill="#1a1a1a" text-anchor="start" stroke="#1a1a1a" stroke-width="0.45" textLength="7.2" lengthAdjust="spacingAndGlyphs">*</text>
<text x="377.0" y="549.3" font-size="17" font-weight="normal" fill="#1a1a1a" text-anchor="start" stroke="#1a1a1a" stroke-width="0.45" textLength="7.2" lengthAdjust="spacingAndGlyphs">*</text>
</svg></body></html>
